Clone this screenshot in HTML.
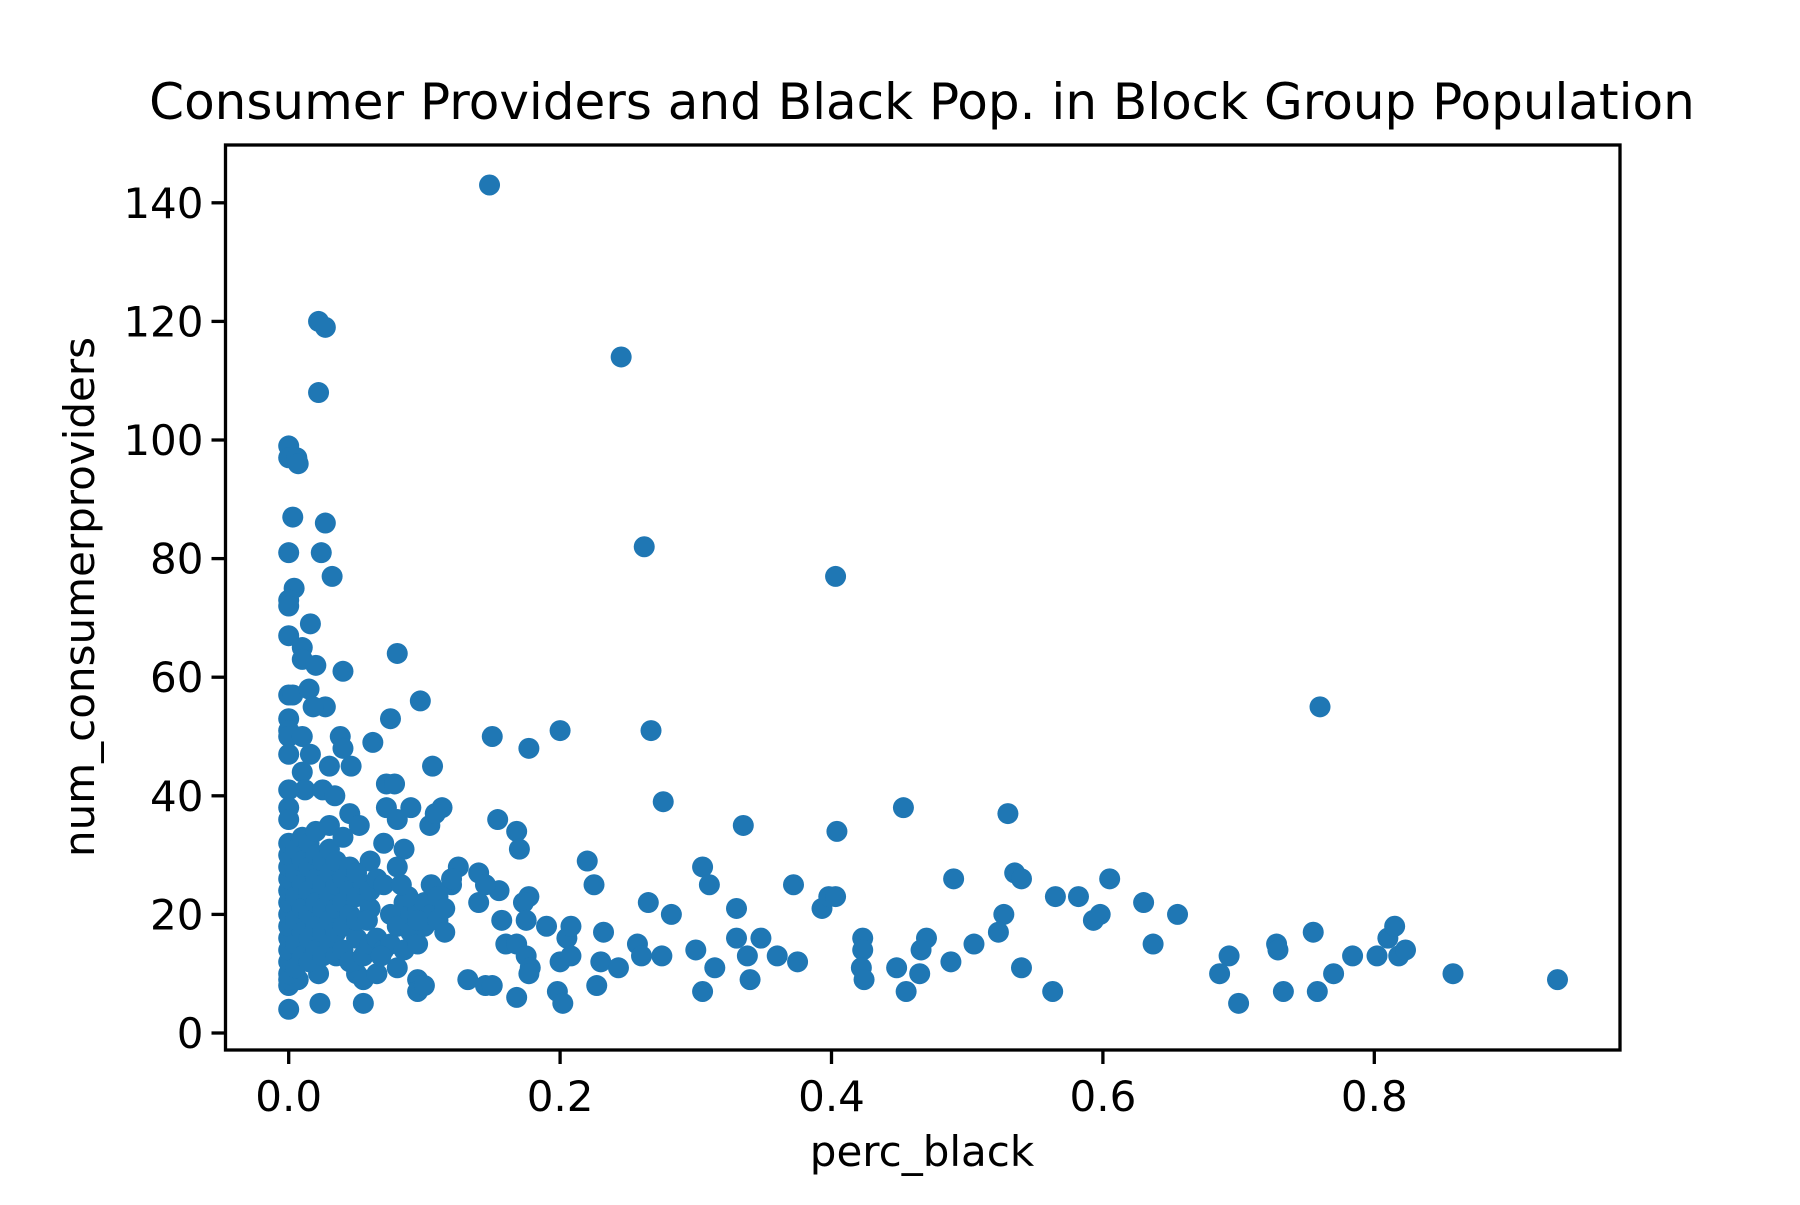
<!DOCTYPE html>
<html><head><meta charset="utf-8"><style>
html,body{margin:0;padding:0;background:#fff;}
svg text{font-family:"DejaVu Sans","Liberation Sans",sans-serif;fill:#000;}
</style></head><body>
<svg id="chart" width="1800" height="1200" viewBox="0 0 1800 1200" xmlns="http://www.w3.org/2000/svg">
<rect width="1800" height="1200" fill="#fff"/>
<text x="922" y="119" font-size="50" text-anchor="middle">Consumer Providers and Black Pop. in Block Group Population</text>
<text x="922" y="1166" font-size="42" text-anchor="middle">perc_black</text>
<text transform="translate(94,597) rotate(-90)" font-size="42" text-anchor="middle">num_consumerproviders</text>
<g id="points"></g>
<g id="axes"></g>
</svg>
<script>
const xVals = [0.148,0.022,0.027,0.022,0.245,0.262,0.403,0.76,0,0,0.006,0.007,0.003,0.027,0,0.024,0.032,0.004,0,0,0.016,0,0.01,0.01,0.02,0.04,0.08,0,0.003,0.015,0.027,0.018,0.097,0.075,0,0,0,0.01,0.038,0.04,0.15,0.2,0.267,0.177,0.062,0,0.016,0.03,0.046,0.106,0.01,0.012,0,0.025,0.034,0.072,0.078,0.276,0.072,0.09,0.113,0.453,0.53,0,0,0.045,0.08,0.104,0.108,0.154,0.168,0.17,0.335,0.404,0.052,0.07,0.085,0.06,0.22,0.305,0.31,0.225,0.125,0.14,0.155,0.372,0.535,0.54,0.49,0.605,0.265,0.282,0.33,0.393,0.398,0.403,0.565,0.582,0.63,0.655,0.598,0.593,0.527,0.523,0.505,0.47,0.466,0.465,0.455,0.448,0.423,0.423,0.422,0.424,0.488,0.54,0.563,0.637,0.686,0.693,0.7,0.728,0.729,0.733,0.755,0.758,0.77,0.784,0.802,0.81,0.815,0.818,0.823,0.858,0.935,0.3,0.305,0.314,0.33,0.338,0.34,0.348,0.36,0.375,0.257,0.26,0.275,0.232,0.23,0.243,0.227,0.198,0.202,0.19,0.2,0.205,0.208,0.208,0.177,0.173,0.175,0.157,0.16,0.168,0.175,0.178,0.177,0.168,0.14,0.145,0.132,0.145,0.15,0.095,0.097,0.095,0.1,0.05,0.055,0.065,0.022,0.023,0.055,0,0,0,0.007,0.08,
0,0,0,0,0,0,0,0,0,0,0,0,0.005,0.005,0.005,0.005,0.005,0.005,0.01,0.01,0.01,0.01,0.01,0.01,0.015,0.015,0.015,0.015,0.015,0.015,0.02,0.02,0.02,0.02,0.02,0.02,0.025,0.025,0.025,0.025,0.025,0.03,0.03,0.03,0.03,0.03,0.03,0.035,0.035,0.035,0.035,0.035,0.04,0.04,0.04,0.04,0.04,0.045,0.045,0.045,0.045,0.05,0.05,0.05,0.05,0.055,0.055,0.06,0.06,0.06,0.065,0.065,0.07,0.07,0.075,0.075,0.08,0.08,0.085,0.085,0.09,0.09,0.095,0.095,0.1,0.1,0.105,0.105,0.11,0.11,0.115,0.115,0.12,0.12,0.095,0.088,0.083,0.068,0.058];
const yVals = [143,120,119,108,114,82,77,55,99,97,97,96,87,86,81,81,77,75,73,72,69,67,65,63,62,61,64,57,57,58,55,55,56,53,53,51,50,50,50,48,50,51,51,48,49,47,47,45,45,45,44,41,41,41,40,42,42,39,38,38,38,38,37,38,36,37,36,35,37,36,34,31,35,34,35,32,31,29,29,28,25,25,28,27,24,25,27,26,26,26,22,20,21,21,23,23,23,23,22,20,20,19,20,17,15,16,14,10,7,11,16,14,11,9,12,11,7,15,10,13,5,15,14,7,17,7,10,13,13,16,18,13,14,10,9,14,7,11,16,13,9,16,13,12,15,13,13,17,12,11,8,7,5,18,12,16,18,13,23,22,19,19,15,15,13,11,10,6,22,25,9,8,8,9,8,7,8,10,9,10,10,5,5,4,8,9,9,11,
10,12,14,16,18,20,22,24,26,28,30,32,11,15,19,23,27,31,13,17,21,25,29,33,12,16,20,24,28,32,14,18,22,26,30,34,13,17,21,25,29,15,19,23,27,31,35,13,17,21,25,29,14,18,22,26,33,12,20,24,28,16,19,23,27,13,25,15,21,24,16,26,14,25,20,15,18,28,14,22,17,20,15,21,18,22,20,25,23,19,17,21,25,26,19,23,25,13,19];
const xTicks = [0.0,0.2,0.4,0.6,0.8];
const xTickLabels = ["0.0","0.2","0.4","0.6","0.8"];
const yTicks = [0,20,40,60,80,100,120,140];
const yTickLabels = ["0","20","40","60","80","100","120","140"];

const NS = "http://www.w3.org/2000/svg";
const X0 = 288.7, XS = 1357, Y0 = 1033, YS = 5.93;
function xScale(v){ return X0 + v * XS; }
function yScale(v){ return Y0 - v * YS; }
const L = 225.5, R = 1620, T = 145, B = 1050;

const pg = document.getElementById('points');
for (let i = 0; i < xVals.length; i++) {
  const c = document.createElementNS(NS, 'circle');
  c.setAttribute('cx', xScale(xVals[i]));
  c.setAttribute('cy', yScale(yVals[i]));
  c.setAttribute('r', 10.5);
  c.setAttribute('fill', '#1f77b4');
  
  
  pg.appendChild(c);
}

const ag = document.getElementById('axes');
const frame = document.createElementNS(NS, 'rect');
frame.setAttribute('x', L); frame.setAttribute('y', T);
frame.setAttribute('width', R - L); frame.setAttribute('height', B - T);
frame.setAttribute('fill', 'none'); frame.setAttribute('stroke', '#000'); frame.setAttribute('stroke-width', 3.3);


ag.appendChild(frame);

xTicks.forEach((t, i) => {
  const x = xScale(t);
  const ln = document.createElementNS(NS, 'line');
  ln.setAttribute('x1', x); ln.setAttribute('x2', x);
  ln.setAttribute('y1', B); ln.setAttribute('y2', B + 14);
  ln.setAttribute('stroke', '#000'); ln.setAttribute('stroke-width', 3.3);
  
  
  ag.appendChild(ln);
  const tx = document.createElementNS(NS, 'text');
  tx.setAttribute('x', x); tx.setAttribute('y', 1111);
  tx.setAttribute('font-size', 42); tx.setAttribute('text-anchor', 'middle');
  tx.textContent = xTickLabels[i];
  
  
  ag.appendChild(tx);
});
yTicks.forEach((t, i) => {
  const y = yScale(t);
  const ln = document.createElementNS(NS, 'line');
  ln.setAttribute('x1', L - 14); ln.setAttribute('x2', L);
  ln.setAttribute('y1', y); ln.setAttribute('y2', y);
  ln.setAttribute('stroke', '#000'); ln.setAttribute('stroke-width', 3.3);
  
  
  ag.appendChild(ln);
  const tx = document.createElementNS(NS, 'text');
  tx.setAttribute('x', L - 22); tx.setAttribute('y', y + 15);
  tx.setAttribute('font-size', 42); tx.setAttribute('text-anchor', 'end');
  tx.textContent = yTickLabels[i];
  
  
  ag.appendChild(tx);
});
</script>
</body></html>
